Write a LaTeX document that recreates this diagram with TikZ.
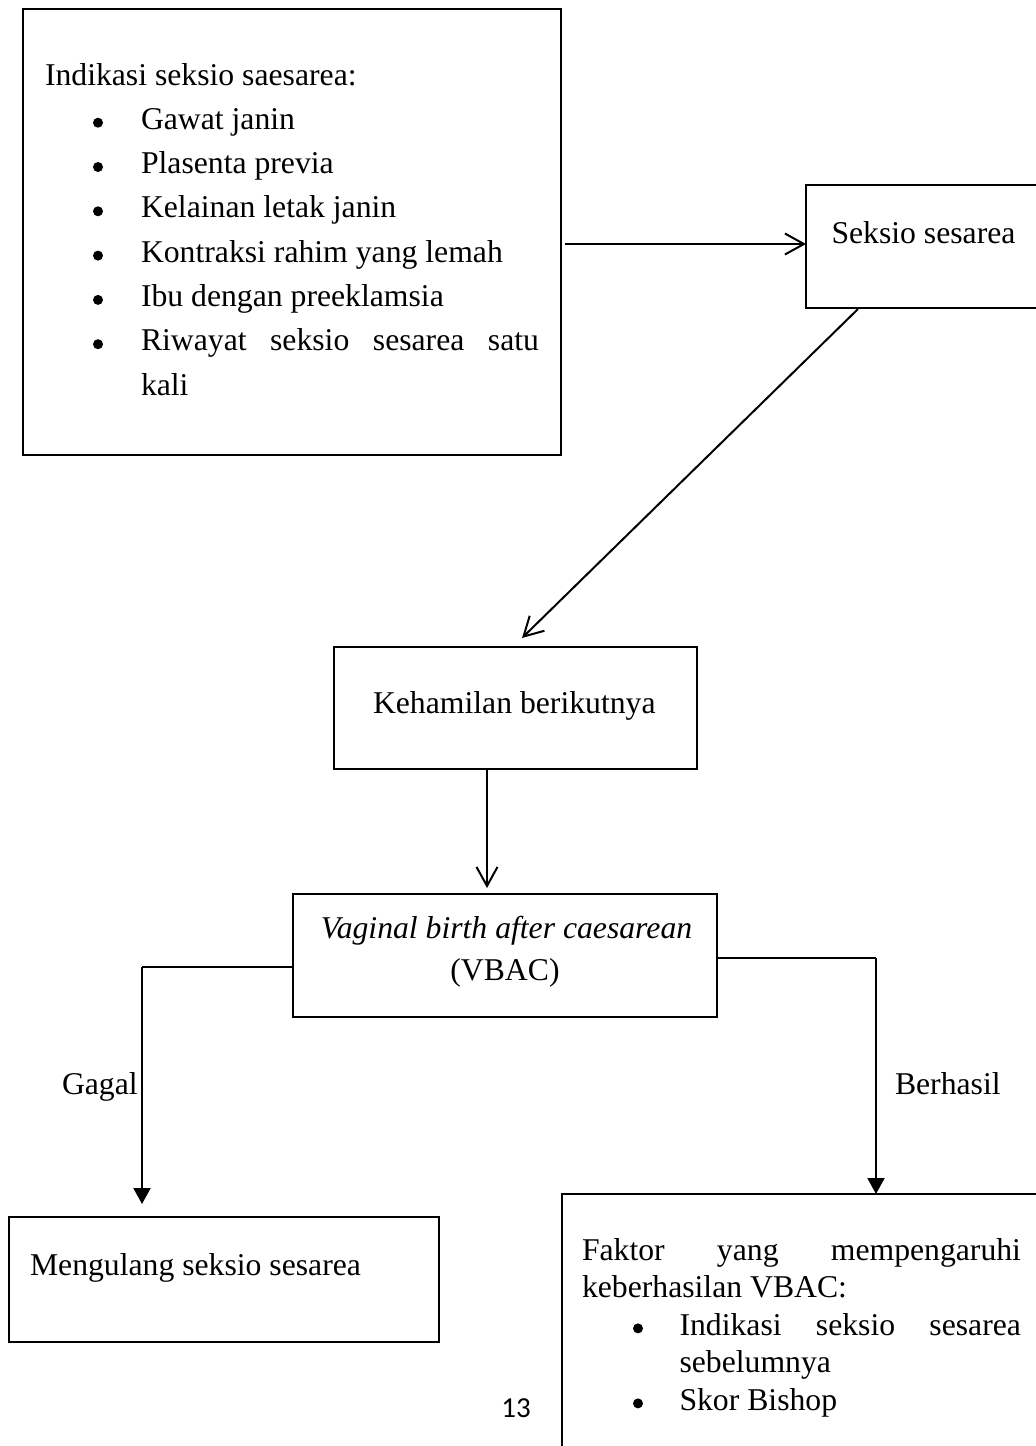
\documentclass[tikz,border=0pt]{standalone}
\usepackage{fontspec}
\setmainfont{Liberation Serif}
\newfontfamily\pagenumfont{Carlito}
\usetikzlibrary{arrows.meta}
\begin{document}
\begin{tikzpicture}[x=0.5pt,y=-0.5pt,
  box/.style={draw, line width=1.25pt, rectangle, inner sep=0pt, outer sep=0pt, anchor=north west},
  txt/.style={anchor=base west, inner sep=0pt, outer sep=0pt, font=\fontsize{15.85pt}{19pt}\selectfont},
  ctxt/.style={txt, anchor=base},
  conn/.style={line width=1pt},
  barb/.style={conn, -{Straight Barb[length=9.5pt,width=10.5pt,line width=1pt]}},
  tri/.style={conn, -{Triangle[length=8pt,width=8.5pt]}},
  bul/.style={fill=black}
]
\useasboundingbox (0,0) rectangle (1036,1446);
\clip (0,0) rectangle (1036,1446);

% boxes
\node[box, minimum width=269pt, minimum height=223pt] (b1) at (23,9) {};
\node[box, minimum width=122pt, minimum height=61.5pt] (s) at (806,185) {};
\node[box, minimum width=181.5pt, minimum height=61pt] (k) at (334,647) {};
\node[box, minimum width=212pt, minimum height=61.5pt] (v) at (293,894) {};
\node[box, minimum width=215pt, minimum height=62.5pt] (m) at (9,1217) {};
\node[box, minimum width=249pt, minimum height=138pt] (f) at (562,1194) {};

% box 1 text
\node[txt] (t1) at (45,85) {Indikasi seksio saesarea:};
\node[txt] (i1) at (141,129.3) {Gawat janin};
\node[txt] (i2) at (141,173.6) {Plasenta previa};
\node[txt] (i3) at (141,217.9) {Kelainan letak janin};
\node[txt] (i4) at (141,262.2) {Kontraksi rahim yang lemah};
\node[txt] (i5) at (141,306.5) {Ibu dengan preeklamsia};
\node[txt] (i6) at (141,350.8) {\makebox[199pt][s]{Riwayat seksio sesarea satu}};
\node[txt] (i7) at (141,395.1) {kali};
\foreach \yy in {129.3,173.6,217.9,262.2,306.5,350.8}
  \fill[bul] (98,\yy-6.6) circle (2.5pt);

% other texts
\node[txt] (st) at (831.5,243) {Seksio sesarea};
\node[txt] (kt) at (373,713) {Kehamilan berikutnya};
\node[ctxt] (v1) at (506.5,938) {\itshape Vaginal birth after caesarean};
\node[ctxt] (v2) at (505,980) {(VBAC)};
\node[txt] (gagal) at (62,1094) {Gagal};
\node[txt] (berhasil) at (895,1094) {Berhasil};
\node[txt] (mt) at (30,1275) {Mengulang seksio sesarea};
\node[txt] (f1) at (582,1260) {\makebox[219.5pt][s]{Faktor yang mempengaruhi}};
\node[txt] (f2) at (582,1297.5) {keberhasilan VBAC:};
\node[txt] (f3) at (679.5,1335) {\makebox[170.75pt][s]{Indikasi seksio sesarea}};
\node[txt] (f4) at (679.5,1372.5) {sebelumnya};
\node[txt] (f5) at (679.5,1410) {Skor Bishop};
\foreach \yy in {1335,1410}
  \fill[bul] (638,\yy-6.6) circle (2.5pt);
\node[anchor=base west, inner sep=0pt, font=\pagenumfont\fontsize{14.5pt}{17pt}\selectfont] (pg) at (501,1417) {13};

% connectors
\coordinate (a1) at (565,244);
\coordinate (d1) at (858,309);
\coordinate (d2) at (522,638);
\coordinate (c1) at (487,888);
\coordinate (lc) at (142,967);
\coordinate (la) at (142,1204);
\coordinate (rc) at (876,958);
\coordinate (ra) at (876,1194);

\draw[barb] (a1) -- (a1 -| s.west);
\draw[barb] (d1) -- (d2);
\draw[barb] (c1 |- k.south) -- (c1);
\draw[conn] (v.west |- lc) -- (lc);
\draw[tri] (lc) -- (la);
\draw[conn] (v.east |- rc) -- (rc);
\draw[tri] (rc) -- (ra);
\end{tikzpicture}
\end{document}
